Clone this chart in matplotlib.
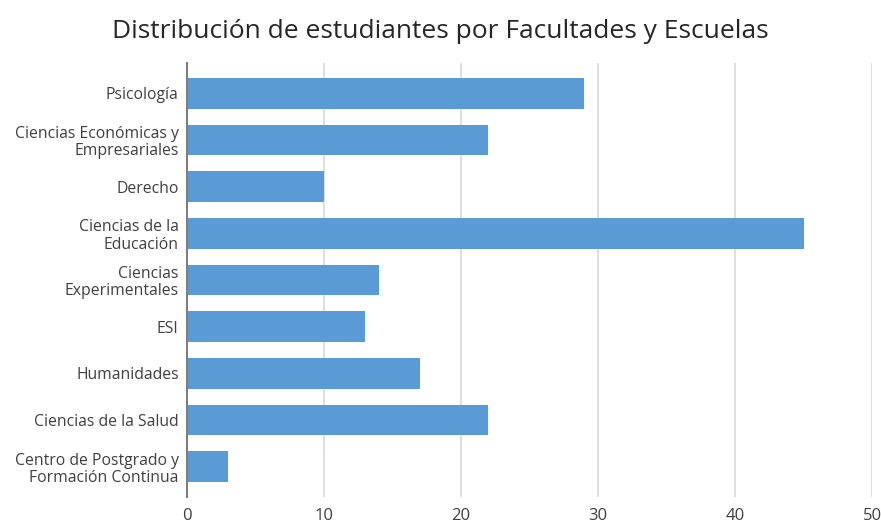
import matplotlib
matplotlib.use("Agg")
import matplotlib.pyplot as plt

categories = [
    "Psicología",
    "Ciencias Económicas y\nEmpresariales",
    "Derecho",
    "Ciencias de la\nEducación",
    "Ciencias\nExperimentales",
    "ESI",
    "Humanidades",
    "Ciencias de la Salud",
    "Centro de Postgrado y\nFormación Continua",
]
values = [29, 22, 10, 45, 14, 13, 17, 22, 3]
xticks = [0, 10, 20, 30, 40, 50]
title = "Distribución de estudiantes por Facultades y Escuelas"

plt.rcParams['font.family'] = ['Open Sans', 'DejaVu Sans']

fig = plt.figure(figsize=(8.81, 5.23), dpi=100)
ax = fig.add_axes([187/881, 1-497/523, (872-187)/881, (497-63)/523])

y = list(range(len(categories)))
ax.barh(y, values, height=0.66, color="#5B9BD5", zorder=3)
ax.set_ylim(len(categories) - 1 + 0.65, -0.65)
ax.set_xlim(0, 50)
ax.set_xticks(xticks)
ax.set_yticks(y)
ax.set_yticklabels(categories, fontsize=11.3, color="#404040", linespacing=1.12)
ax.set_xticklabels([str(t) for t in xticks], fontsize=12, color="#404040")
ax.tick_params(axis='both', length=0)
ax.tick_params(axis='y', pad=6)
ax.tick_params(axis='x', pad=8)
ax.xaxis.grid(True, color="#D9D9D9", linewidth=1.2, zorder=0)
for s in ["top", "right", "bottom"]:
    ax.spines[s].set_visible(False)
ax.spines["left"].set_color("#7F7F7F")
ax.spines["left"].set_linewidth(1.5)
ax.spines["left"].set_zorder(4)

fig.text(0.5, 1-31/523, title, ha="center", va="center", fontsize=19, color="#262626")

fig.savefig("out.png", dpi=100)
